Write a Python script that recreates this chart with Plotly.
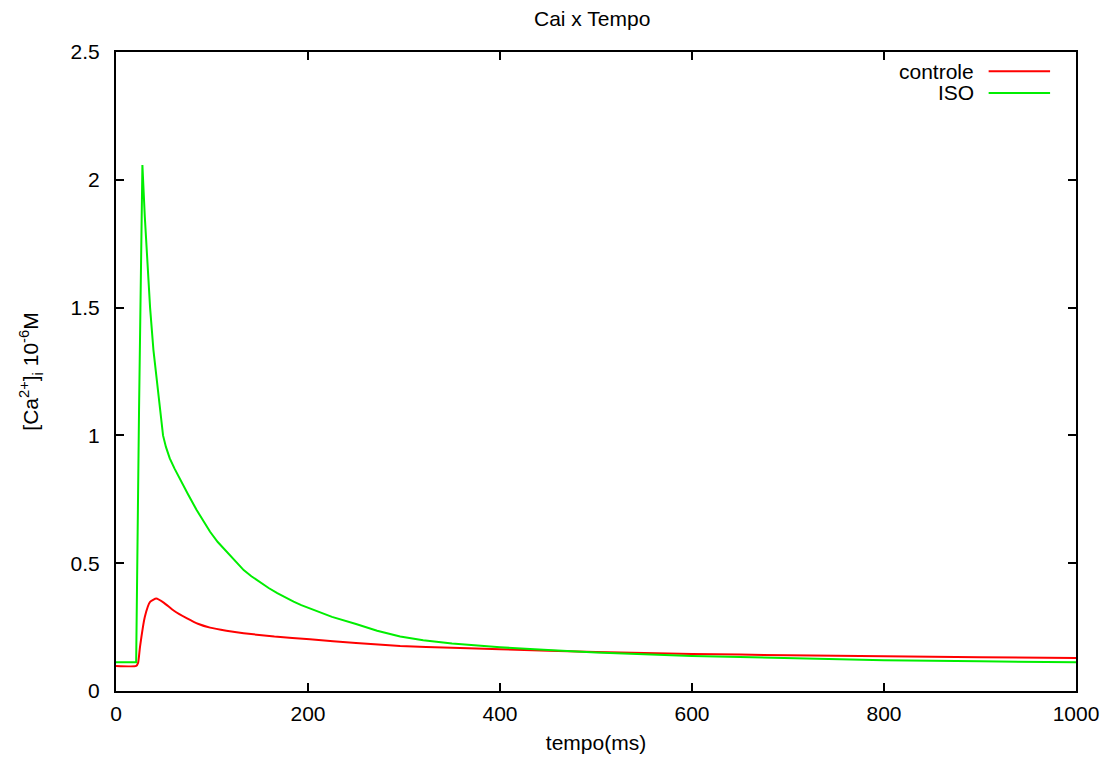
import plotly.graph_objects as go

# ---- data ----
t_iso = [0, 21, 24, 27.5, 30, 32.7, 35.5, 39, 44, 49, 52, 56, 61, 67, 75, 84, 91, 98,
         106, 115, 124, 133, 141, 150, 159, 168, 176, 185, 193, 202, 225, 250, 272,
         296, 320, 350, 375, 400, 450, 500, 600, 700, 800, 900, 1000]
iso = [0.112, 0.112, 1.1, 2.058, 1.856, 1.66, 1.5, 1.334, 1.165, 1.0, 0.955, 0.91,
       0.87, 0.826, 0.77, 0.708, 0.665, 0.623, 0.583, 0.545, 0.507, 0.473, 0.449,
       0.425, 0.403, 0.383, 0.366, 0.35, 0.336, 0.323, 0.29, 0.262, 0.236, 0.213,
       0.199, 0.186, 0.178, 0.171, 0.16, 0.151, 0.137, 0.128, 0.120, 0.116, 0.112]

t_ctl = [0, 21, 23, 25, 30, 35.5, 42, 50, 60, 74, 86, 98, 115, 133, 165, 202, 250,
         296, 350, 400, 500, 600, 700, 800, 900, 1000]
ctl = [0.098, 0.098, 0.11, 0.173, 0.29, 0.349, 0.362, 0.345, 0.315, 0.284, 0.262,
       0.248, 0.236, 0.226, 0.213, 0.202, 0.188, 0.176, 0.169, 0.163, 0.153, 0.145,
       0.140, 0.136, 0.132, 0.129]

series_names = ["controle", "ISO"]
series_colors = ["#ff0000", "#00ee00"]

x_ticks = [0, 200, 400, 600, 800, 1000]
y_ticks = [0, 0.5, 1, 1.5, 2, 2.5]

FONT = "Liberation Sans, Arial, sans-serif"
FS = 21

fig = go.Figure()
fig.add_trace(go.Scatter(x=t_ctl, y=ctl, mode="lines", name=series_names[0],
                         line=dict(color=series_colors[0], width=2, shape="spline",
                                   smoothing=0.5)))
fig.add_trace(go.Scatter(x=t_iso, y=iso, mode="lines", name=series_names[1],
                         line=dict(color=series_colors[1], width=2)))

axis_common = dict(showgrid=False, zeroline=False, showline=True, linecolor="black",
                   linewidth=2, mirror="ticks", ticks="inside", ticklen=8,
                   tickwidth=2, tickcolor="black",
                   tickfont=dict(family=FONT, size=FS, color="black"))

fig.update_xaxes(range=[0, 1000], tickvals=x_ticks, ticklabelstandoff=3,
                 title=dict(text="tempo(ms)", font=dict(family=FONT, size=FS, color="black"),
                            standoff=11),
                 **axis_common)
fig.update_yaxes(range=[0, 2.5], tickvals=y_ticks, ticklabelstandoff=10,
                 title=dict(text="[Ca<sup>2+</sup>]<sub>i</sub> 10<sup>-6</sup>M",
                            font=dict(family=FONT, size=FS, color="black"), standoff=26),
                 **axis_common)

# gnuplot-style legend: text right-aligned, sample line to the right
legend_rows_y = [0.970, 0.936]
for name, color, yy in zip(series_names, series_colors, legend_rows_y):
    fig.add_annotation(xref="paper", yref="paper", x=0.896, y=yy, text=name,
                       showarrow=False, xanchor="right", yanchor="middle",
                       font=dict(family=FONT, size=FS, color="black"))
    fig.add_shape(type="line", xref="paper", yref="paper", x0=0.909, x1=0.973,
                  y0=yy, y1=yy, line=dict(color=color, width=2))

# the page body has an 8px margin; the figure is sized/offset to compensate
fig.update_layout(
    width=1104, height=755,
    margin=dict(l=108, r=36, t=44, b=72),
    paper_bgcolor="white", plot_bgcolor="white",
    showlegend=False,
    title=dict(text="Cai x Tempo", xref="paper", x=0.496, xanchor="center",
               y=1 - 11 / 755, yanchor="middle",
               font=dict(family=FONT, size=FS, color="black")),
)

fig.write_html("out.html")
